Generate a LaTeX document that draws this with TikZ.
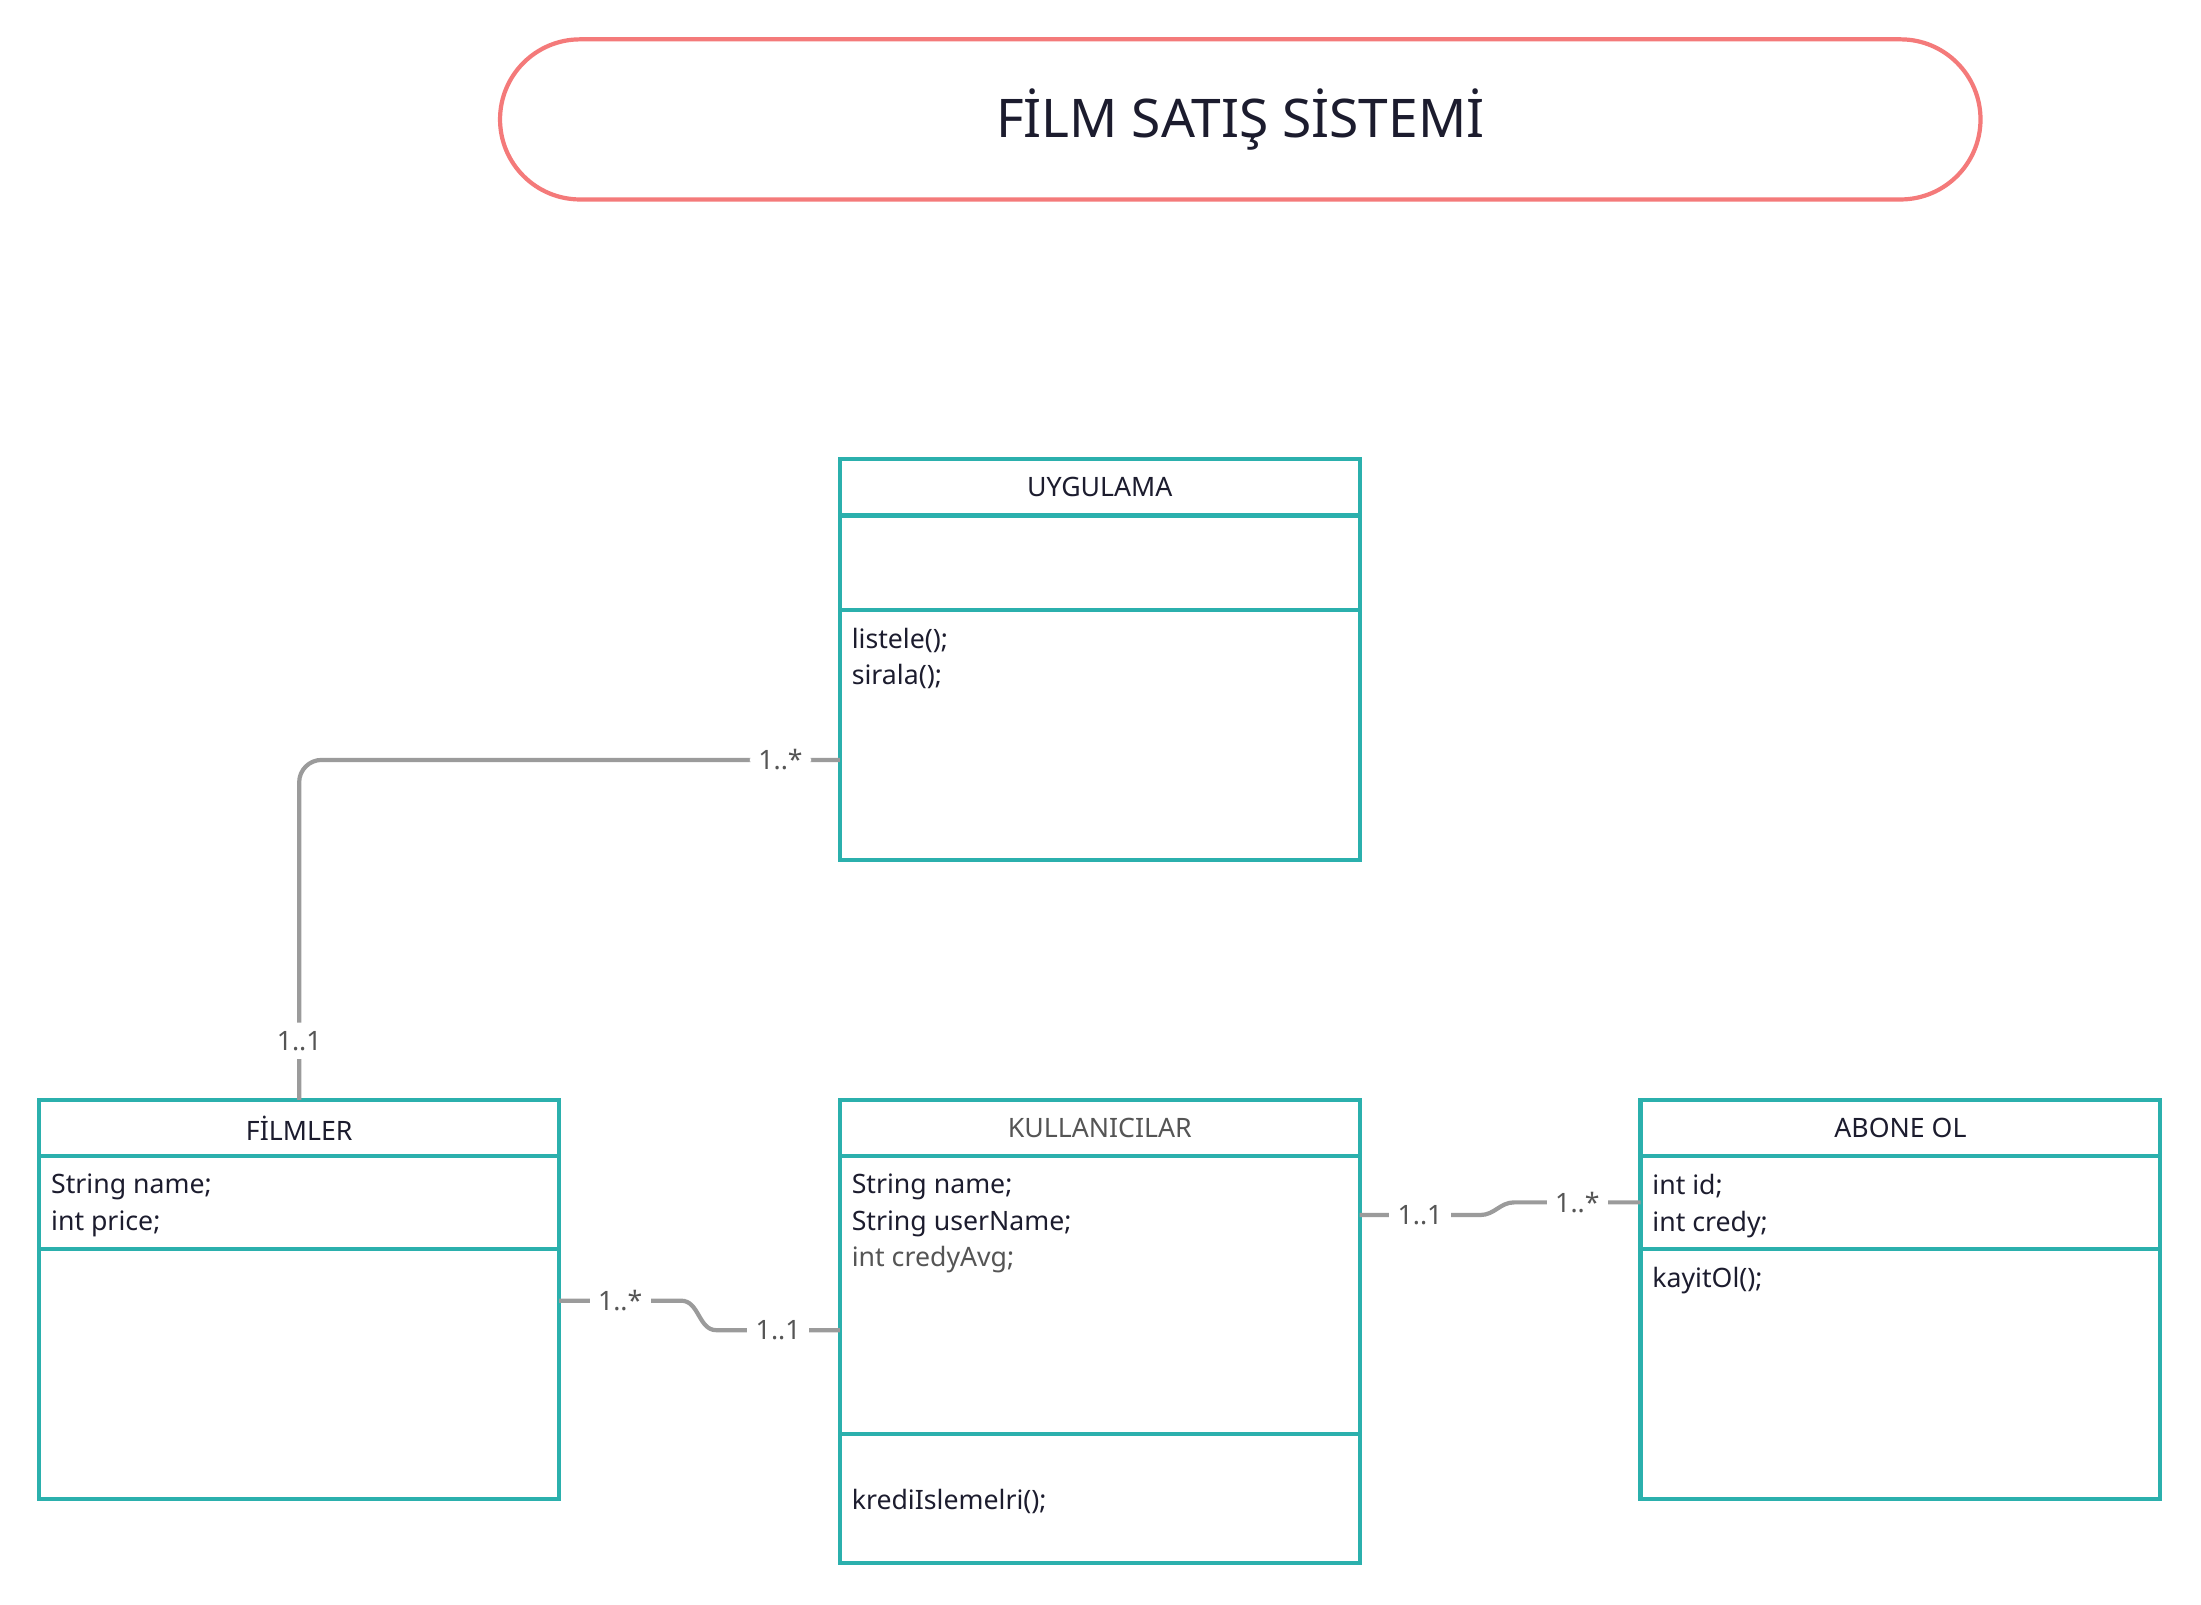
\documentclass[tikz,border=0pt]{standalone}
\usepackage{fontspec}
\setmainfont{Noto Sans}
\usepackage{tikz}
\usetikzlibrary{positioning}
\definecolor{myteal}{RGB}{43, 176, 173}
\definecolor{mysalmon}{RGB}{244, 122, 122}
\definecolor{mygray}{RGB}{155, 155, 155}
\definecolor{myink}{RGB}{28, 28, 46}
\definecolor{mysoftink}{RGB}{85, 85, 85}

\begin{document}
\begin{tikzpicture}[
            x=0.5pt, y=-0.5pt,
            node distance=100pt and 100pt,
            title/.style={
                draw=mysalmon,
                line width=1.5pt,
                rounded corners=28.5pt,
                minimum width=527pt,
                minimum height=57pt,
                text=myink,
                font=\fontsize{18.97pt}{23pt}\selectfont
            },
            classhead/.style={
                rectangle,
                draw=myteal,
                line width=1.5pt,
                outer sep=0pt,
                inner sep=0pt,
                minimum width=185pt,
                minimum height=20pt,
                text=myink,
                font=\fontsize{9.5pt}{13pt}\selectfont
            },
            classpart/.style={classhead, minimum height=#1},
            members/.style={
                anchor=north west,
                align=left,
                inner sep=0pt,
                text=myink,
                font=\fontsize{9.5pt}{13pt}\selectfont
            },
            assoc/.style={draw=mygray, line width=1.5pt},
            mult/.style={fill=white, inner sep=3pt, text=mysoftink, font=\fontsize{9.5pt}{13pt}\selectfont}
        ]

            \useasboundingbox (0,0) rectangle (1567,1142.6);

            % Title
            \node[title] (title) at (883,85) {\raisebox{-1.5pt}{FİLM SATIŞ SİSTEMİ}};

            % Classes
            \node[classhead, anchor=north west] (uyg) at (598,327) {UYGULAMA};
            \node[classpart=33.5pt, below=0pt of uyg] (uyg-attr) {};
            \node[classpart=89pt, below=0pt of uyg-attr] (uyg-ops) {};

            \node[classhead, text=mysoftink, below=85.5pt of uyg-ops] (kul) {KULLANICILAR};
            \node[classpart=99pt, below=0pt of kul] (kul-attr) {};
            \node[classpart=46pt, below=0pt of kul-attr] (kul-ops) {};

            \node[classhead, left=of kul] (fil) {FİLMLER};
            \node[classpart=33pt, below=0pt of fil] (fil-attr) {};
            \node[classpart=89pt, below=0pt of fil-attr] (fil-ops) {};

            \node[classhead, right=of kul] (abo) {ABONE OL};
            \node[classpart=33pt, below=0pt of abo] (abo-attr) {};
            \node[classpart=89pt, below=0pt of abo-attr] (abo-ops) {};

            % Members
            \node[members] (uyg-ops-txt) at ([shift={(4pt,-6.3pt)}]uyg-ops.north west) {listele();\\sirala();};
            \node[members] (fil-attr-txt) at ([shift={(4pt,-6.3pt)}]fil-attr.north west) {String name;\\int price;};
            \node[members] (kul-attr-txt) at ([shift={(4pt,-6.3pt)}]kul-attr.north west) {String name;\\String userName;\\{\color{mysoftink}int credyAvg;}};
            \node[members] (kul-ops-txt) at ([shift={(4pt,-19.3pt)}]kul-ops.north west) {krediIslemelri();};
            \node[members] (abo-attr-txt) at ([shift={(4pt,-6.3pt)}]abo-attr.north west) {int id;\\int credy;};
            \node[members] (abo-ops-txt) at ([shift={(4pt,-6.3pt)}]abo-ops.north west) {kayitOl();};

            % Associations
            \draw[assoc, rounded corners=8pt] ([yshift=-9pt]uyg-ops.west)
                -| node[mult, pos=0.055] {1..*} node[mult, pos=0.913] {1..1} (fil.north);
            \draw[assoc] ([yshift=26pt]fil-ops.east) -- node[mult] {1..*} ++(87,0)
                to[out=0, in=180] ++(25,21) -- node[mult] {1..1} ([yshift=-12.5pt]kul-attr.west);
            \draw[assoc] ([yshift=28.5pt]kul-attr.east) -- node[mult] {1..1} ++(86,0)
                to[out=0, in=180] ++(24,-9) -- node[mult] {1..*} (abo-attr.west);
        \end{tikzpicture}
\end{document}
